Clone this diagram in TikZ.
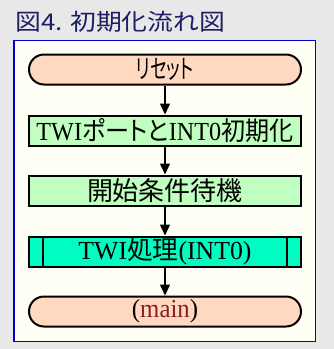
\documentclass[tikz,border=0pt]{standalone}
\usepackage{fontspec}
\usepackage{graphicx}
\usetikzlibrary{arrows.meta}
\setmainfont{Liberation Serif}
\newfontfamily\cjk[RawFeature=+palt]{Noto Sans CJK JP}
\newfontfamily\cjkt{Noto Sans CJK JP}
\definecolor{bggray}{RGB}{232,232,232}
\definecolor{cream}{RGB}{255,255,245}
\definecolor{peach}{RGB}{255,216,192}
\definecolor{lgreen}{RGB}{192,255,192}
\definecolor{teal}{RGB}{0,252,192}
\definecolor{framblue}{RGB}{0,0,204}
\definecolor{navy}{RGB}{30,30,100}
\definecolor{mainred}{RGB}{140,30,30}
\newcommand{\fitw}[2]{\resizebox{#1}{\height}{#2}}
\tikzset{
  boxtext/.style={font=\fontsize{26pt}{28pt}\selectfont, inner sep=0pt},
  termbox/.style={boxtext, draw=black, line width=2pt, fill=peach, rounded corners=15pt, minimum width=272pt, minimum height=30pt},
  procbox/.style={boxtext, draw=black, line width=2pt, fill=lgreen, minimum width=272pt, minimum height=30pt},
  subbox/.style={boxtext, draw=black, line width=2pt, fill=teal, minimum width=272pt, minimum height=30pt},
  flow/.style={draw=black, line width=1.5pt, -{Triangle[width=10pt,length=11pt]}},
}
\begin{document}
\begin{tikzpicture}[x=1pt,y=-1pt]
\fill[bggray] (0,0) rectangle (334,349);
\useasboundingbox (0,0) rectangle (334,349);
\node[anchor=west, inner sep=0pt, text=navy, font=\cjkt\fontsize{23pt}{25pt}\selectfont] (title) at (15,22) {\fitw{210pt}{図4. 初期化流れ図}};
\draw[framblue, line width=1.5pt, fill=cream] (13.75,40.25) rectangle (315.25,341.25);
\node[termbox] (reset) at (165,69.5) {\fitw{58pt}{\cjk リセット}};
\node[procbox] (init) at (165,130.5) {\fitw{257pt}{TWI{\cjk ポートと}INT0{\cjk 初期化}}};
\node[procbox] (wait) at (165,190.5) {\fitw{156pt}{\cjk 開始条件待機}};
\node[subbox] (twi) at (165,251.5) {\fitw{173pt}{TWI{\cjk 処理}(INT0)}};
\draw[line width=2pt] ([xshift=15pt]twi.north west) -- ([xshift=15pt]twi.south west);
\draw[line width=2pt] ([xshift=-15pt]twi.north east) -- ([xshift=-15pt]twi.south east);
\node[termbox] (main) at (165,311.5) {\fitw{66pt}{(\textcolor{mainred}{main})}};
\draw[flow] (reset) -- (init);
\draw[flow] (init) -- (wait);
\draw[flow] (wait) -- (twi);
\draw[flow] (twi) -- (main);
\end{tikzpicture}
\end{document}
